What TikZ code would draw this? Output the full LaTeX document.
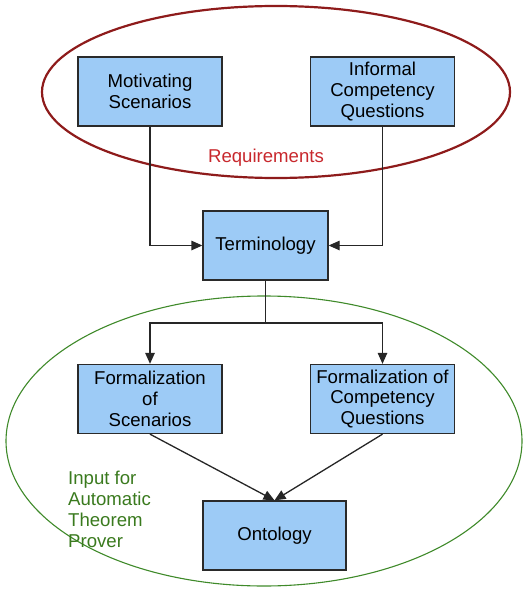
\documentclass[tikz,border=0pt]{standalone}
\usepackage{fontspec}
\setmainfont{Liberation Sans}
\usetikzlibrary{arrows.meta,shapes.geometric}
\definecolor{boxfill}{HTML}{9DCBF6}
\definecolor{boxline}{HTML}{2A2A2A}
\definecolor{reqred}{HTML}{8E1B1B}
\definecolor{reqtext}{HTML}{C8282D}
\definecolor{inpgreen}{HTML}{3F8A2A}
\definecolor{inptext}{HTML}{3A7A1E}
\tikzset{txt/.style={font=\fontsize{18.6}{20.8}\selectfont}}
\begin{document}
\begin{tikzpicture}[x=1pt,y=-1pt,
  box/.style={draw=boxline,line width=1.3pt,fill=boxfill,minimum width=#1,minimum height=69pt,
    inner sep=0pt,align=center,txt},
  box/.default=144pt,
  conn/.style={draw=black!85,line width=1.3pt},
  arr/.style={conn,-{Triangle[length=11pt,width=9.5pt]}}]
\useasboundingbox (0,0) rectangle (524,589);
% ellipses
\node[draw=reqred,line width=2.2pt,ellipse,minimum width=468pt,minimum height=172pt,inner sep=0pt] (req) at (276,92) {};
\node[draw=inpgreen,line width=1.1pt,ellipse,minimum width=516pt,minimum height=290pt,inner sep=0pt] (inp) at (264,441) {};
% boxes
\node[box] (mot) at (150,91.5) {Motivating\\Scenarios};
\node[box] (icq) at (382.5,91.5) {Informal\\Competency\\Questions};
\node[box=125pt] (term) at (265.5,245.5) {Terminology};
\node[box] (fs) at (150,399) {Formalization\\of\\Scenarios};
\node[box] (fcq) at (382.5,399) {Formalization of\\Competency\\Questions};
\node[box=143pt] (ont) at (274.5,535.5) {Ontology};
% labels
\node[text=reqtext,txt] (reqlab) at (266,158) {Requirements};
\node[text=inptext,txt,align=left,anchor=north west,inner sep=0pt] (inplab) at (68,471) {Input for\\Automatic\\Theorem\\Prover};
% connectors
\coordinate (split) at (265.5,323);
\draw[arr] (mot.south) |- (term.west);
\draw[arr] (icq.south) |- (term.east);
\draw[conn] (term.south) -- (split);
\draw[arr] (split) -| (fs.north);
\draw[arr] (split) -| (fcq.north);
\draw[arr] (fs.south) -- (ont.north);
\draw[arr] (fcq.south) -- (ont.north);
\end{tikzpicture}
\end{document}
